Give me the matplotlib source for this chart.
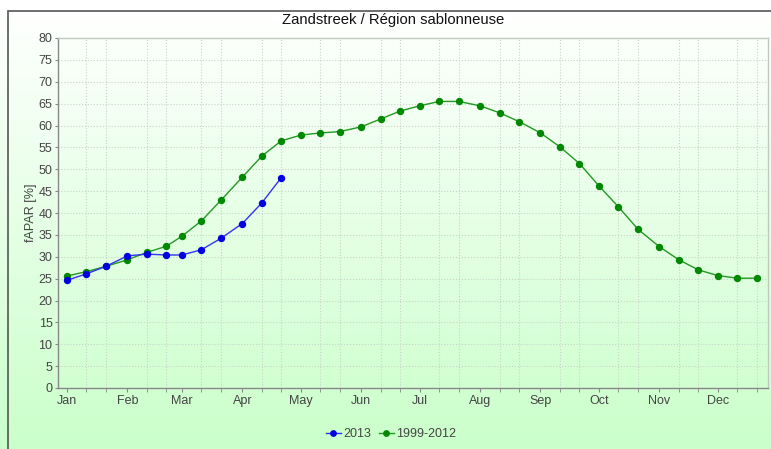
import numpy as np
import matplotlib
matplotlib.use("Agg")
import matplotlib.pyplot as plt
from matplotlib.patches import Rectangle
import datetime as dt

plt.rcParams['font.family'] = ['Liberation Sans', 'DejaVu Sans']

# ---- data ----
title = "Zandstreek / Région sablonneuse"
ylabel = "fAPAR [%]"
month_labels = ["Jan", "Feb", "Mar", "Apr", "May", "Jun",
                "Jul", "Aug", "Sep", "Oct", "Nov", "Dec"]
dekad_days = [1, 11, 21]
year = 2013

series_2013 = [24.6, 26.1, 27.8, 30.2, 30.6, 30.4, 30.4, 31.6, 34.2, 37.6,
               42.3, 48.1]
series_clim = [25.6, 26.6, 27.8, 29.3, 31.0, 32.4, 34.7, 38.2, 42.9,
               48.2, 53.0, 56.5, 57.8, 58.3, 58.6, 59.7, 61.5, 63.3,
               64.5, 65.5, 65.5, 64.5, 62.9, 60.9, 58.3, 55.1, 51.3,
               46.2, 41.4, 36.3, 32.3, 29.3, 27.0, 25.7, 25.1, 25.1]
legend_labels = ["2013", "1999-2012"]

dekads = [dt.datetime(year, m, d) for m in range(1, 13) for d in dekad_days]

W, H = 771, 449
fig = plt.figure(figsize=(W / 100, H / 100), dpi=100)

# background gradient
bg = fig.add_axes([0, 0, 1, 1], zorder=-10)
rows = np.arange(H)
t = np.clip((rows - 11) / (H - 11), 0, 1)
top = np.array([1.0, 1.0, 1.0])
bot = np.array([202, 255, 202]) / 255
img = top[None, :] * (1 - t[:, None]) + bot[None, :] * t[:, None]
img[rows < 11] = 1.0
img = np.repeat(img[:, None, :], 2, axis=1)
bg.imshow(img, extent=[0, 1, 0, 1], aspect='auto', origin='upper')
bg.set_xlim(0, 1)
bg.set_ylim(0, 1)
bg.axis('off')
bg.add_patch(Rectangle((7.5 / W, -0.1), 2, 1 + 0.1 - 11.5 / H, fill=False,
                       edgecolor='#555555', linewidth=1.2))

ax = fig.add_axes([58 / W, 1 - 388 / H, (768 - 58) / W, (388 - 38) / H])
ax.set_facecolor('none')

ax.plot(dekads[:len(series_2013)], series_2013, color='#3333ee', marker='o',
        markersize=4.3, linewidth=1, label=legend_labels[0], zorder=4,
        markerfacecolor='#0000e0', markeredgecolor='#0000e0')
ax.plot(dekads[:len(series_clim)], series_clim, color='#229922', marker='o',
        markersize=4.3, linewidth=1, label=legend_labels[1], zorder=3,
        markerfacecolor='#008800', markeredgecolor='#008800')

x0 = dt.datetime(year, 1, 1) - dt.timedelta(days=4.6)
x1 = dt.datetime(year, 12, 26, 18)
ax.set_xlim(x0, x1)
ax.set_ylim(0, 80)
ax.set_yticks(np.arange(0, 81, 5))

ax.set_xticks([dt.datetime(year, m, 1) for m in range(1, 13)])
ax.set_xticklabels(month_labels)
ax.set_xticks(dekads, minor=True)
ax.tick_params(axis='x', which='major', length=3, color='#888888',
               labelsize=9, labelcolor='#444444', pad=2)
ax.tick_params(axis='x', which='minor', length=3, color='#888888')
ax.tick_params(axis='y', length=2, color='#888888', labelsize=9,
               labelcolor='#444444', pad=2)

ax.grid(True, which='minor', axis='x', color='#c8d4c8', linestyle=':', linewidth=0.8)
ax.grid(True, which='major', axis='y', color='#c8d4c8', linestyle=':', linewidth=0.8)
ax.set_axisbelow(True)

for s in ['left', 'bottom']:
    ax.spines[s].set_color('#888888')
    ax.spines[s].set_linewidth(1)
for s in ['top', 'right']:
    ax.spines[s].set_color('#c0c8c0')
    ax.spines[s].set_linewidth(1)

ax.set_ylabel(ylabel, fontsize=9, color='#444444', labelpad=1)

fig.text(393 / W, 1 - 20 / H, title, ha='center', va='center', fontsize=10.7,
         color='#111111')

fig.legend(loc='center', bbox_to_anchor=(391 / W, 1 - 434 / H), ncol=2,
           frameon=False, fontsize=9, handlelength=1.2, handletextpad=0.2,
           columnspacing=0.6, markerscale=0.9, labelcolor='#444444')

fig.savefig('out.png', dpi=100)
